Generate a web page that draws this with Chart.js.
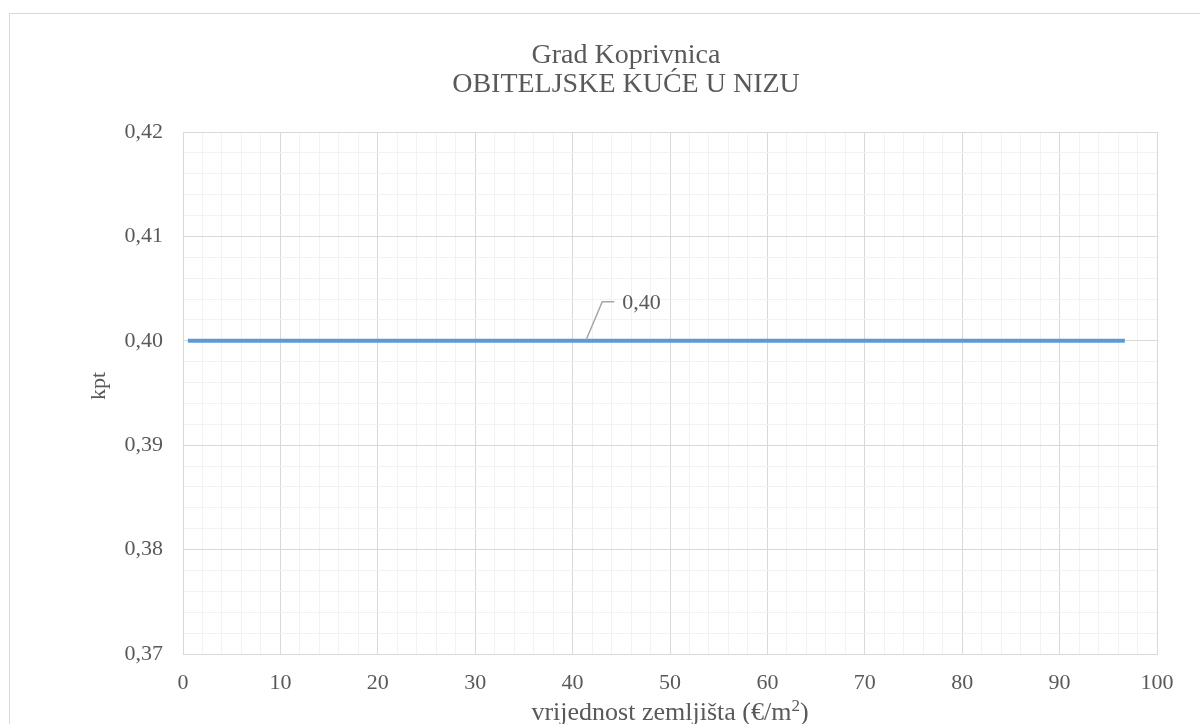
<!DOCTYPE html>
<html>
<head>
<meta charset="utf-8">
<title>Grad Koprivnica – OBITELJSKE KUĆE U NIZU</title>
<script src="https://cdn.jsdelivr.net/npm/chart.js@4/dist/chart.umd.min.js"></script>
<style>
  html, body { margin: 0; padding: 0; background: #fff; overflow: hidden; }
  #wrap { position: relative; width: 1200px; height: 724px; }
  #frame {
    position: absolute; left: 9px; top: 13px; width: 1300px; height: 800px;
    border: 1px solid #D9D9D9; pointer-events: none; box-sizing: border-box;
  }
  canvas { position: absolute; left: 0; top: 0; }
</style>
</head>
<body>
<div id="wrap">
  <canvas id="chart" width="1200" height="724"></canvas>
  <div id="frame"></div>
</div>
<script>
// Series: land value (€/m²) against the kpt coefficient
const landValue = [0.5, 41.4, 96.7];
const kpt = [0.40, 0.40, 0.40];
const labelIndex = 1;           // point carrying the value label

const titleLines = ['Grad Koprivnica', 'OBITELJSKE KUĆE U NIZU'];
const xTitle = 'vrijednost zemljišta (€/m';
const xTitleSup = '2';
const xTitleEnd = ')';
const yTitle = 'kpt';

const xRange = [0, 100];
const yRange = [0.37, 0.42];

const FONT = "'Liberation Serif', 'Times New Roman', serif";
const TEXT = '#595959';
const MAJOR = '#D9D9D9';
const MINOR = '#F2F2F2';

const fmt = v => v.toFixed(2).replace('.', ',');
const isMajorX = v => Math.abs(v / 10 - Math.round(v / 10)) < 1e-6;
const isMajorY = v => Math.abs(v * 100 - Math.round(v * 100)) < 1e-6;

// Chart title and axis titles
const textPlugin = {
  id: 'texts',
  afterDraw(chart) {
    const c = chart.ctx;
    const a = chart.chartArea;
    c.save();
    c.fillStyle = TEXT;
    c.textAlign = 'center';
    c.textBaseline = 'alphabetic';
    c.font = '28px ' + FONT;
    c.fillText(titleLines[0], 626, 63);
    c.fillText(titleLines[1], 626, 92);

    // x-axis title with a raised "2" in m²
    const big = '26px ' + FONT, small = '17px ' + FONT;
    c.font = big;
    const w1 = c.measureText(xTitle).width;
    const w3 = c.measureText(xTitleEnd).width;
    c.font = small;
    const w2 = c.measureText(xTitleSup).width;
    let x0 = (a.left + a.right) / 2 - (w1 + w2 + w3) / 2;
    const base = 720;
    c.textAlign = 'left';
    c.font = big;
    c.fillText(xTitle, x0, base);
    c.font = small;
    c.fillText(xTitleSup, x0 + w1, base - 9);
    c.font = big;
    c.fillText(xTitleEnd, x0 + w1 + w2, base);

    c.font = '22px ' + FONT;
    c.textAlign = 'center';
    c.translate(105, (a.top + a.bottom) / 2 - 7);
    c.rotate(-Math.PI / 2);
    c.fillText(yTitle, 0, 0);
    c.restore();
  }
};

// Value label with a bent leader line
const valueLabel = {
  id: 'valueLabel',
  afterDatasetsDraw(chart) {
    const c = chart.ctx;
    const pt = chart.getDatasetMeta(0).data[labelIndex];
    const x = pt.x, y = pt.y;
    c.save();
    c.strokeStyle = '#A6A6A6';
    c.lineWidth = 1.5;
    c.beginPath();
    c.moveTo(x, y - 1);
    c.lineTo(x + 16, y - 39);
    c.lineTo(x + 28, y - 39);
    c.stroke();
    c.fillStyle = TEXT;
    c.font = '22px ' + FONT;
    c.textAlign = 'left';
    c.textBaseline = 'middle';
    c.fillText(fmt(kpt[labelIndex]), x + 36, y - 38);
    c.restore();
  }
};

new Chart(document.getElementById('chart'), {
  type: 'line',
  data: {
    datasets: [{
      data: landValue.map((v, i) => ({ x: v, y: kpt[i] })),
      borderColor: '#5B9BD5',
      borderWidth: 4,
      borderCapStyle: 'butt',
      pointRadius: 0,
      fill: false,
      tension: 0
    }]
  },
  options: {
    responsive: false,
    animation: false,
    devicePixelRatio: 1,
    layout: { padding: { top: 132, right: 43, left: 0, bottom: 0 } },
    plugins: { legend: { display: false }, title: { display: false }, tooltip: { enabled: false } },
    scales: {
      x: {
        type: 'linear',
        min: xRange[0], max: xRange[1],
        afterFit(s) { s.height = 70; },
        border: { color: MAJOR, width: 1 },
        grid: {
          drawTicks: false, tickLength: 0,
          color: ctx => isMajorX(ctx.tick.value) ? MAJOR : MINOR,
          lineWidth: 1
        },
        ticks: {
          stepSize: 2, autoSkip: false, maxRotation: 0, padding: 16,
          color: TEXT, font: { family: FONT, size: 22 },
          callback: v => isMajorX(v) ? String(Math.round(v)) : ''
        }
      },
      y: {
        type: 'linear',
        min: yRange[0], max: yRange[1],
        afterFit(s) { s.width = 183; },
        border: { color: MAJOR, width: 1 },
        grid: {
          drawTicks: false, tickLength: 0,
          color: ctx => isMajorY(ctx.tick.value) ? MAJOR : MINOR,
          lineWidth: 1
        },
        ticks: {
          stepSize: 0.002, autoSkip: false, padding: 20,
          color: TEXT, font: { family: FONT, size: 22 },
          callback: v => isMajorY(v) ? fmt(v) : ''
        }
      }
    }
  },
  plugins: [textPlugin, valueLabel]
});
</script>
</body>
</html>
